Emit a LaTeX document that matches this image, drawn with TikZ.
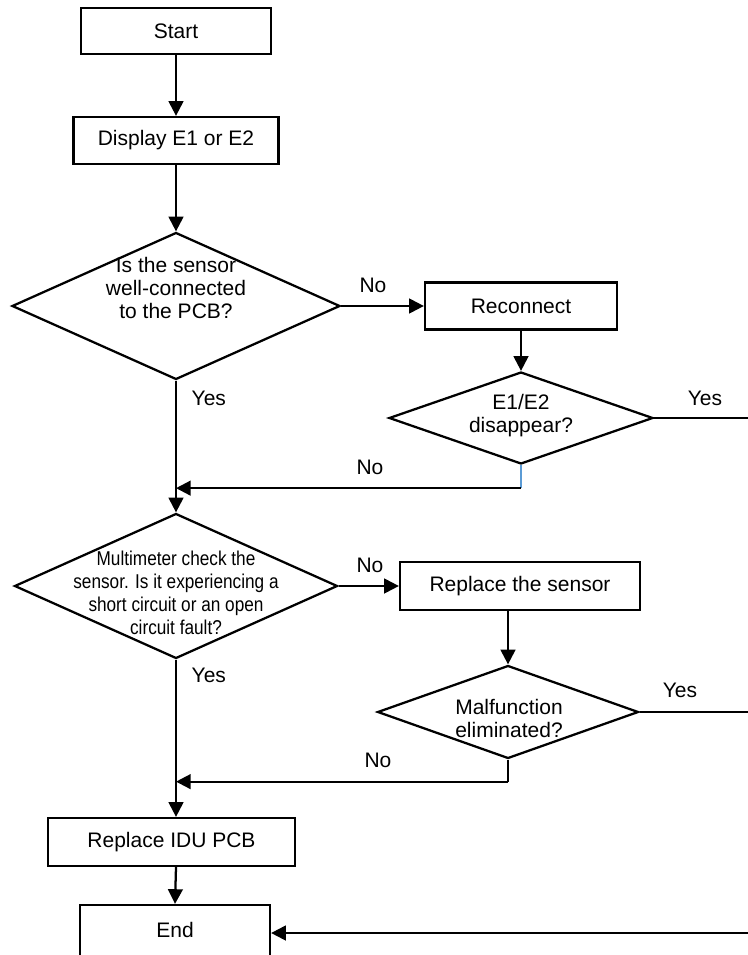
\documentclass[tikz,border=0pt]{standalone}
\usepackage{fontspec}
\setmainfont{Liberation Sans}
\newfontfamily\narrowfont[FakeStretch=0.86]{Liberation Sans}
\usepackage{xcolor}
\usetikzlibrary{arrows.meta,shapes.geometric}
\definecolor{joinblue}{RGB}{91,155,213}

\begin{document}
\begin{tikzpicture}[x=0.75pt,y=-0.75pt,>={Triangle[length=11pt,width=11pt]},
every node/.style={font=\fontsize{15.75}{17.25}\selectfont},
box/.style={draw,line width=1.7pt,rectangle},
choice/.style={draw,line width=1.7pt,diamond,inner sep=0pt},
flow/.style={line width=1.7pt}]
\useasboundingbox (0,0) rectangle (748,955);
% boxes
\node[box,minimum width=142.5pt,minimum height=34.5pt] (start) at (176,31) {Start};
\node[box,minimum width=153.75pt,minimum height=35.25pt] (disp) at (176,140.5) {Display E1 or E2};
\node[box,minimum width=144pt,minimum height=35.25pt] (reconn) at (521,306) {Reconnect};
\node[box,minimum width=180pt,minimum height=36pt] (repsen) at (520,586) {Replace the sensor};
\node[box,minimum width=185.25pt,minimum height=36pt] (idu) at (171.5,842) {Replace IDU PCB};
\node[box,minimum width=142.5pt,minimum height=42pt] (end) at (175,933) {};
\node (endtxt) at (175,930) {End};
% decisions
\node[choice,minimum width=246pt,minimum height=110.25pt] (q1) at (176,306) {};
\node[align=center] (q1txt) at (176,288) {Is the sensor\\well-connected\\to the PCB?};
\node[choice,minimum width=198pt,minimum height=69pt] (q2) at (521,418) {};
\node[align=center] (q2txt) at (521,416) {E1/E2\\disappear?};
\node[choice,minimum width=242.25pt,minimum height=108.75pt] (q3) at (176,586) {};
\node[align=center,font=\narrowfont\fontsize{15}{17.25}\selectfont] (q3txt) at (176,593)
  {Multimeter check the\\sensor. Is it experiencing a\\short circuit or an open\\circuit fault?};
\node[choice,minimum width=195.75pt,minimum height=69.75pt] (q4) at (508,712) {};
\node[align=center] (q4txt) at (509,718) {Malfunction\\eliminated?};
% free ends on the right
\coordinate (rimA) at (750,418);
\coordinate (rimB) at (750,712);
\coordinate (rimC) at (750,933);
% connectors
\draw[flow,->] (start) -- (disp);
\draw[flow,->] (disp) -- (q1);
\draw[flow,->] (q1.east) -- (reconn.west);
\draw[flow,->] (reconn) -- (q2);
\draw[flow] (q2.east) -- (rimA);
\draw[joinblue,line width=0.9pt] (q2.south) -- ++(0,23) coordinate (j2);
\draw[flow,->] (j2) -- (j2 -| q1.south);
\draw[flow,->] (q1.south) -- (q3.north);
\draw[flow,->] (q3.east) -- (repsen.west);
\draw[flow,->] (repsen.south -| q4.north) -- (q4.north);
\draw[flow] (q4.east) -- (rimB);
\draw[flow] (q4.south) -- ++(0,22) coordinate (j4);
\draw[flow,->] (j4) -- (j4 -| q3.south);
\draw[flow,->] (q3.south) -- (q3.south |- idu.north);
\draw[flow,->] (idu.south -| q3.south) -- (end.north);
\draw[flow,->] (rimC) -- (end.east);
% labels
\node (no1) at (373,285) {No};
\node (yes1) at (705,398) {Yes};
\node[anchor=west] (yes2) at (187,398) {Yes};
\node (no2) at (370,467) {No};
\node (no3) at (370,565) {No};
\node (yes3) at (680,690) {Yes};
\node[anchor=west] (yes4) at (187,675) {Yes};
\node (no4) at (378,760) {No};
\end{tikzpicture}
\end{document}
